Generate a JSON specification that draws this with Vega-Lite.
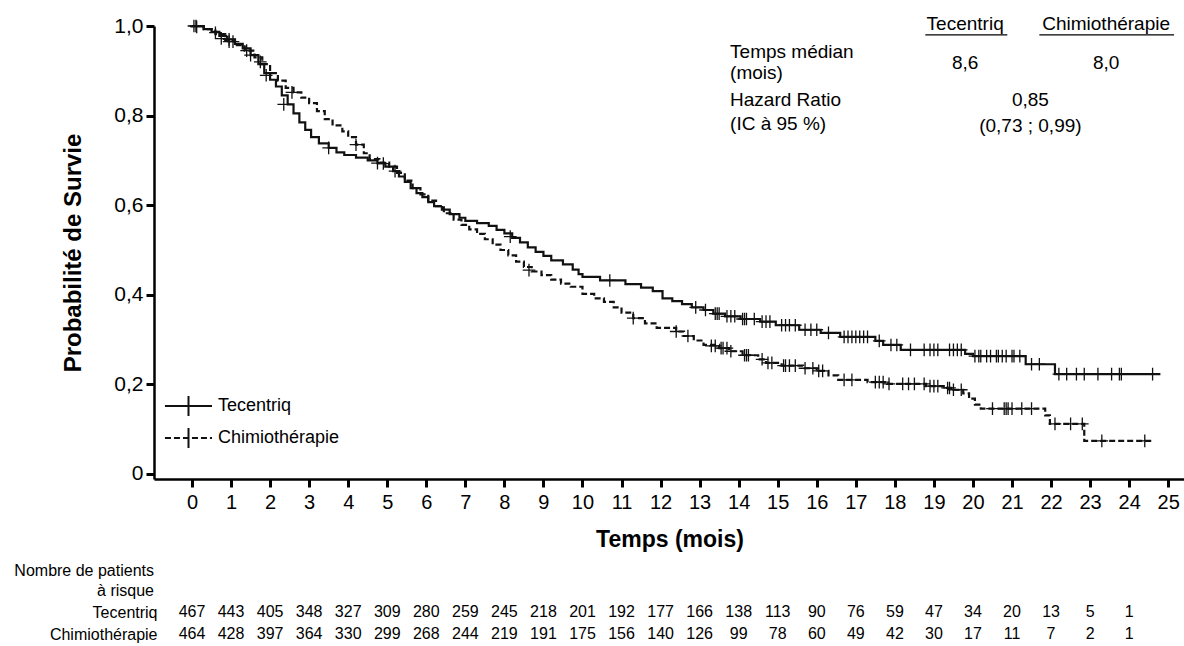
{
  "$schema": "https://vega.github.io/schema/vega-lite/v6.json",
  "background": "white",
  "padding": {"left": 14, "top": 14, "right": 0, "bottom": 0},
  "config": {
    "font": "Liberation Sans",
    "view": {"stroke": null},
    "axis": {"labelColor": "#000", "titleColor": "#000", "domainColor": "#000", "tickColor": "#000", "grid": false, "labelFont": "Liberation Sans", "titleFont": "Liberation Sans"},
    "legend": {"labelFont": "Liberation Sans"}
  },
  "spacing": 12,
  "resolve": {"scale": {"x": "independent", "y": "independent"}},
  "datasets": {
    "km": [
      {"g":"Tecentriq","t":0,"s":1.0},{"g":"Tecentriq","t":0.3,"s":0.993},{"g":"Tecentriq","t":0.5,"s":0.987},{"g":"Tecentriq","t":0.7,"s":0.978},{"g":"Tecentriq","t":0.9,"s":0.97},{"g":"Tecentriq","t":1.1,"s":0.96},{"g":"Tecentriq","t":1.3,"s":0.95},{"g":"Tecentriq","t":1.5,"s":0.935},{"g":"Tecentriq","t":1.7,"s":0.915},{"g":"Tecentriq","t":1.85,"s":0.895},{"g":"Tecentriq","t":2.0,"s":0.88},{"g":"Tecentriq","t":2.15,"s":0.865},{"g":"Tecentriq","t":2.3,"s":0.845},{"g":"Tecentriq","t":2.45,"s":0.825},{"g":"Tecentriq","t":2.6,"s":0.805},{"g":"Tecentriq","t":2.75,"s":0.785},{"g":"Tecentriq","t":2.9,"s":0.768},{"g":"Tecentriq","t":3.05,"s":0.752},{"g":"Tecentriq","t":3.25,"s":0.738},{"g":"Tecentriq","t":3.5,"s":0.728},{"g":"Tecentriq","t":3.7,"s":0.718},{"g":"Tecentriq","t":3.9,"s":0.712},{"g":"Tecentriq","t":4.2,"s":0.706},{"g":"Tecentriq","t":4.5,"s":0.7},{"g":"Tecentriq","t":4.75,"s":0.694},{"g":"Tecentriq","t":4.95,"s":0.686},{"g":"Tecentriq","t":5.15,"s":0.676},{"g":"Tecentriq","t":5.3,"s":0.664},{"g":"Tecentriq","t":5.45,"s":0.652},{"g":"Tecentriq","t":5.6,"s":0.638},{"g":"Tecentriq","t":5.75,"s":0.627},{"g":"Tecentriq","t":5.9,"s":0.618},{"g":"Tecentriq","t":6.05,"s":0.607},{"g":"Tecentriq","t":6.2,"s":0.598},{"g":"Tecentriq","t":6.4,"s":0.59},{"g":"Tecentriq","t":6.6,"s":0.58},{"g":"Tecentriq","t":6.85,"s":0.572},{"g":"Tecentriq","t":7.0,"s":0.565},{"g":"Tecentriq","t":7.3,"s":0.56},{"g":"Tecentriq","t":7.6,"s":0.554},{"g":"Tecentriq","t":7.8,"s":0.545},{"g":"Tecentriq","t":8.0,"s":0.537},{"g":"Tecentriq","t":8.2,"s":0.527},{"g":"Tecentriq","t":8.4,"s":0.517},{"g":"Tecentriq","t":8.6,"s":0.506},{"g":"Tecentriq","t":8.8,"s":0.496},{"g":"Tecentriq","t":9.0,"s":0.487},{"g":"Tecentriq","t":9.2,"s":0.477},{"g":"Tecentriq","t":9.5,"s":0.468},{"g":"Tecentriq","t":9.75,"s":0.456},{"g":"Tecentriq","t":9.9,"s":0.446},{"g":"Tecentriq","t":10.0,"s":0.44},{"g":"Tecentriq","t":10.45,"s":0.432},{"g":"Tecentriq","t":11.1,"s":0.424},{"g":"Tecentriq","t":11.5,"s":0.416},{"g":"Tecentriq","t":11.8,"s":0.408},{"g":"Tecentriq","t":12.05,"s":0.392},{"g":"Tecentriq","t":12.3,"s":0.386},{"g":"Tecentriq","t":12.55,"s":0.379},{"g":"Tecentriq","t":12.8,"s":0.372},{"g":"Tecentriq","t":13.1,"s":0.366},{"g":"Tecentriq","t":13.35,"s":0.358},{"g":"Tecentriq","t":13.65,"s":0.352},{"g":"Tecentriq","t":14.05,"s":0.346},{"g":"Tecentriq","t":14.55,"s":0.34},{"g":"Tecentriq","t":14.95,"s":0.332},{"g":"Tecentriq","t":15.55,"s":0.322},{"g":"Tecentriq","t":16.1,"s":0.315},{"g":"Tecentriq","t":16.6,"s":0.306},{"g":"Tecentriq","t":17.5,"s":0.297},{"g":"Tecentriq","t":17.7,"s":0.288},{"g":"Tecentriq","t":18.15,"s":0.277},{"g":"Tecentriq","t":19.8,"s":0.268},{"g":"Tecentriq","t":20.0,"s":0.263},{"g":"Tecentriq","t":21.35,"s":0.245},{"g":"Tecentriq","t":22.1,"s":0.223},{"g":"Tecentriq","t":24.8,"s":0.223},
      {"g":"Chimiothérapie","t":0,"s":1.0},{"g":"Chimiothérapie","t":0.3,"s":0.993},{"g":"Chimiothérapie","t":0.6,"s":0.982},{"g":"Chimiothérapie","t":0.85,"s":0.968},{"g":"Chimiothérapie","t":1.1,"s":0.957},{"g":"Chimiothérapie","t":1.35,"s":0.945},{"g":"Chimiothérapie","t":1.6,"s":0.93},{"g":"Chimiothérapie","t":1.8,"s":0.915},{"g":"Chimiothérapie","t":2.0,"s":0.895},{"g":"Chimiothérapie","t":2.2,"s":0.878},{"g":"Chimiothérapie","t":2.4,"s":0.862},{"g":"Chimiothérapie","t":2.6,"s":0.852},{"g":"Chimiothérapie","t":2.8,"s":0.84},{"g":"Chimiothérapie","t":3.0,"s":0.828},{"g":"Chimiothérapie","t":3.2,"s":0.81},{"g":"Chimiothérapie","t":3.4,"s":0.792},{"g":"Chimiothérapie","t":3.6,"s":0.778},{"g":"Chimiothérapie","t":3.85,"s":0.765},{"g":"Chimiothérapie","t":4.0,"s":0.752},{"g":"Chimiothérapie","t":4.2,"s":0.735},{"g":"Chimiothérapie","t":4.4,"s":0.716},{"g":"Chimiothérapie","t":4.55,"s":0.703},{"g":"Chimiothérapie","t":4.8,"s":0.695},{"g":"Chimiothérapie","t":5.05,"s":0.686},{"g":"Chimiothérapie","t":5.25,"s":0.672},{"g":"Chimiothérapie","t":5.45,"s":0.655},{"g":"Chimiothérapie","t":5.65,"s":0.638},{"g":"Chimiothérapie","t":5.85,"s":0.624},{"g":"Chimiothérapie","t":6.05,"s":0.61},{"g":"Chimiothérapie","t":6.25,"s":0.598},{"g":"Chimiothérapie","t":6.45,"s":0.582},{"g":"Chimiothérapie","t":6.7,"s":0.568},{"g":"Chimiothérapie","t":6.9,"s":0.556},{"g":"Chimiothérapie","t":7.1,"s":0.546},{"g":"Chimiothérapie","t":7.3,"s":0.536},{"g":"Chimiothérapie","t":7.5,"s":0.524},{"g":"Chimiothérapie","t":7.7,"s":0.512},{"g":"Chimiothérapie","t":7.9,"s":0.5},{"g":"Chimiothérapie","t":8.1,"s":0.488},{"g":"Chimiothérapie","t":8.3,"s":0.474},{"g":"Chimiothérapie","t":8.5,"s":0.462},{"g":"Chimiothérapie","t":8.7,"s":0.452},{"g":"Chimiothérapie","t":8.95,"s":0.444},{"g":"Chimiothérapie","t":9.2,"s":0.434},{"g":"Chimiothérapie","t":9.45,"s":0.425},{"g":"Chimiothérapie","t":9.7,"s":0.418},{"g":"Chimiothérapie","t":10.0,"s":0.402},{"g":"Chimiothérapie","t":10.3,"s":0.392},{"g":"Chimiothérapie","t":10.55,"s":0.384},{"g":"Chimiothérapie","t":10.8,"s":0.372},{"g":"Chimiothérapie","t":11.0,"s":0.36},{"g":"Chimiothérapie","t":11.3,"s":0.348},{"g":"Chimiothérapie","t":11.6,"s":0.336},{"g":"Chimiothérapie","t":11.9,"s":0.326},{"g":"Chimiothérapie","t":12.4,"s":0.318},{"g":"Chimiothérapie","t":12.6,"s":0.308},{"g":"Chimiothérapie","t":12.85,"s":0.298},{"g":"Chimiothérapie","t":13.1,"s":0.288},{"g":"Chimiothérapie","t":13.5,"s":0.281},{"g":"Chimiothérapie","t":13.75,"s":0.274},{"g":"Chimiothérapie","t":14.1,"s":0.265},{"g":"Chimiothérapie","t":14.5,"s":0.256},{"g":"Chimiothérapie","t":14.7,"s":0.248},{"g":"Chimiothérapie","t":15.1,"s":0.242},{"g":"Chimiothérapie","t":15.65,"s":0.236},{"g":"Chimiothérapie","t":16.0,"s":0.23},{"g":"Chimiothérapie","t":16.3,"s":0.22},{"g":"Chimiothérapie","t":16.55,"s":0.21},{"g":"Chimiothérapie","t":17.3,"s":0.205},{"g":"Chimiothérapie","t":17.8,"s":0.201},{"g":"Chimiothérapie","t":18.8,"s":0.196},{"g":"Chimiothérapie","t":19.3,"s":0.192},{"g":"Chimiothérapie","t":19.5,"s":0.188},{"g":"Chimiothérapie","t":19.75,"s":0.18},{"g":"Chimiothérapie","t":19.9,"s":0.168},{"g":"Chimiothérapie","t":20.05,"s":0.155},{"g":"Chimiothérapie","t":20.2,"s":0.146},{"g":"Chimiothérapie","t":21.85,"s":0.131},{"g":"Chimiothérapie","t":21.97,"s":0.112},{"g":"Chimiothérapie","t":22.85,"s":0.074},{"g":"Chimiothérapie","t":24.6,"s":0.074}
    ],
    "censor": [
      {"g":"Tecentriq","t":0.05,"s":1.0},{"g":"Tecentriq","t":0.12,"s":0.998},{"g":"Tecentriq","t":0.6,"s":0.985},{"g":"Tecentriq","t":0.95,"s":0.97},{"g":"Tecentriq","t":1.05,"s":0.965},{"g":"Tecentriq","t":1.4,"s":0.945},{"g":"Tecentriq","t":1.9,"s":0.89},{"g":"Tecentriq","t":2.35,"s":0.825},{"g":"Tecentriq","t":3.5,"s":0.728},{"g":"Tecentriq","t":4.75,"s":0.694},{"g":"Tecentriq","t":5.2,"s":0.676},{"g":"Tecentriq","t":8.15,"s":0.53},{"g":"Tecentriq","t":10.7,"s":0.432},{"g":"Tecentriq","t":12.9,"s":0.372},{"g":"Tecentriq","t":13.15,"s":0.366},{"g":"Tecentriq","t":13.4,"s":0.358},{"g":"Tecentriq","t":13.45,"s":0.358},{"g":"Tecentriq","t":13.5,"s":0.358},{"g":"Tecentriq","t":13.7,"s":0.352},{"g":"Tecentriq","t":13.8,"s":0.352},{"g":"Tecentriq","t":13.9,"s":0.352},{"g":"Tecentriq","t":14.1,"s":0.346},{"g":"Tecentriq","t":14.15,"s":0.346},{"g":"Tecentriq","t":14.2,"s":0.346},{"g":"Tecentriq","t":14.4,"s":0.346},{"g":"Tecentriq","t":14.6,"s":0.34},{"g":"Tecentriq","t":14.7,"s":0.34},{"g":"Tecentriq","t":14.8,"s":0.34},{"g":"Tecentriq","t":15.1,"s":0.332},{"g":"Tecentriq","t":15.2,"s":0.332},{"g":"Tecentriq","t":15.3,"s":0.332},{"g":"Tecentriq","t":15.45,"s":0.332},{"g":"Tecentriq","t":15.7,"s":0.322},{"g":"Tecentriq","t":15.85,"s":0.322},{"g":"Tecentriq","t":16.0,"s":0.322},{"g":"Tecentriq","t":16.3,"s":0.315},{"g":"Tecentriq","t":16.7,"s":0.306},{"g":"Tecentriq","t":16.8,"s":0.306},{"g":"Tecentriq","t":16.9,"s":0.306},{"g":"Tecentriq","t":17.0,"s":0.306},{"g":"Tecentriq","t":17.1,"s":0.306},{"g":"Tecentriq","t":17.2,"s":0.306},{"g":"Tecentriq","t":17.3,"s":0.306},{"g":"Tecentriq","t":17.6,"s":0.297},{"g":"Tecentriq","t":17.9,"s":0.288},{"g":"Tecentriq","t":18.05,"s":0.288},{"g":"Tecentriq","t":18.4,"s":0.277},{"g":"Tecentriq","t":18.75,"s":0.277},{"g":"Tecentriq","t":18.9,"s":0.277},{"g":"Tecentriq","t":19.0,"s":0.277},{"g":"Tecentriq","t":19.1,"s":0.277},{"g":"Tecentriq","t":19.4,"s":0.277},{"g":"Tecentriq","t":19.5,"s":0.277},{"g":"Tecentriq","t":19.6,"s":0.277},{"g":"Tecentriq","t":19.7,"s":0.277},{"g":"Tecentriq","t":20.05,"s":0.263},{"g":"Tecentriq","t":20.15,"s":0.263},{"g":"Tecentriq","t":20.2,"s":0.263},{"g":"Tecentriq","t":20.35,"s":0.263},{"g":"Tecentriq","t":20.45,"s":0.263},{"g":"Tecentriq","t":20.6,"s":0.263},{"g":"Tecentriq","t":20.65,"s":0.263},{"g":"Tecentriq","t":20.75,"s":0.263},{"g":"Tecentriq","t":20.85,"s":0.263},{"g":"Tecentriq","t":21.0,"s":0.263},{"g":"Tecentriq","t":21.05,"s":0.263},{"g":"Tecentriq","t":21.2,"s":0.263},{"g":"Tecentriq","t":21.5,"s":0.245},{"g":"Tecentriq","t":21.7,"s":0.245},{"g":"Tecentriq","t":22.2,"s":0.223},{"g":"Tecentriq","t":22.4,"s":0.223},{"g":"Tecentriq","t":22.65,"s":0.223},{"g":"Tecentriq","t":22.85,"s":0.223},{"g":"Tecentriq","t":23.2,"s":0.223},{"g":"Tecentriq","t":23.55,"s":0.223},{"g":"Tecentriq","t":23.75,"s":0.223},{"g":"Tecentriq","t":23.8,"s":0.223},{"g":"Tecentriq","t":24.6,"s":0.223},
      {"g":"Chimiothérapie","t":0.1,"s":1.0},{"g":"Chimiothérapie","t":0.75,"s":0.972},{"g":"Chimiothérapie","t":0.95,"s":0.965},{"g":"Chimiothérapie","t":1.5,"s":0.935},{"g":"Chimiothérapie","t":1.75,"s":0.92},{"g":"Chimiothérapie","t":2.56,"s":0.852},{"g":"Chimiothérapie","t":4.2,"s":0.735},{"g":"Chimiothérapie","t":4.9,"s":0.693},{"g":"Chimiothérapie","t":8.63,"s":0.455},{"g":"Chimiothérapie","t":11.3,"s":0.348},{"g":"Chimiothérapie","t":12.4,"s":0.318},{"g":"Chimiothérapie","t":12.7,"s":0.308},{"g":"Chimiothérapie","t":13.3,"s":0.286},{"g":"Chimiothérapie","t":13.4,"s":0.286},{"g":"Chimiothérapie","t":13.55,"s":0.281},{"g":"Chimiothérapie","t":13.6,"s":0.281},{"g":"Chimiothérapie","t":13.7,"s":0.281},{"g":"Chimiothérapie","t":13.8,"s":0.274},{"g":"Chimiothérapie","t":14.15,"s":0.265},{"g":"Chimiothérapie","t":14.2,"s":0.265},{"g":"Chimiothérapie","t":14.25,"s":0.265},{"g":"Chimiothérapie","t":14.6,"s":0.256},{"g":"Chimiothérapie","t":14.75,"s":0.248},{"g":"Chimiothérapie","t":14.85,"s":0.248},{"g":"Chimiothérapie","t":15.15,"s":0.242},{"g":"Chimiothérapie","t":15.2,"s":0.242},{"g":"Chimiothérapie","t":15.3,"s":0.242},{"g":"Chimiothérapie","t":15.45,"s":0.242},{"g":"Chimiothérapie","t":15.7,"s":0.236},{"g":"Chimiothérapie","t":15.9,"s":0.236},{"g":"Chimiothérapie","t":16.05,"s":0.23},{"g":"Chimiothérapie","t":16.15,"s":0.23},{"g":"Chimiothérapie","t":16.7,"s":0.21},{"g":"Chimiothérapie","t":16.9,"s":0.21},{"g":"Chimiothérapie","t":17.5,"s":0.205},{"g":"Chimiothérapie","t":17.6,"s":0.205},{"g":"Chimiothérapie","t":17.7,"s":0.205},{"g":"Chimiothérapie","t":17.85,"s":0.201},{"g":"Chimiothérapie","t":18.2,"s":0.201},{"g":"Chimiothérapie","t":18.35,"s":0.201},{"g":"Chimiothérapie","t":18.5,"s":0.201},{"g":"Chimiothérapie","t":18.75,"s":0.201},{"g":"Chimiothérapie","t":18.9,"s":0.196},{"g":"Chimiothérapie","t":19.0,"s":0.196},{"g":"Chimiothérapie","t":19.1,"s":0.196},{"g":"Chimiothérapie","t":19.35,"s":0.192},{"g":"Chimiothérapie","t":19.4,"s":0.192},{"g":"Chimiothérapie","t":19.5,"s":0.188},{"g":"Chimiothérapie","t":19.7,"s":0.188},{"g":"Chimiothérapie","t":20.5,"s":0.146},{"g":"Chimiothérapie","t":20.8,"s":0.146},{"g":"Chimiothérapie","t":20.85,"s":0.146},{"g":"Chimiothérapie","t":20.9,"s":0.146},{"g":"Chimiothérapie","t":21.0,"s":0.146},{"g":"Chimiothérapie","t":21.25,"s":0.146},{"g":"Chimiothérapie","t":21.5,"s":0.146},{"g":"Chimiothérapie","t":22.1,"s":0.112},{"g":"Chimiothérapie","t":22.5,"s":0.112},{"g":"Chimiothérapie","t":22.8,"s":0.112},{"g":"Chimiothérapie","t":23.3,"s":0.074},{"g":"Chimiothérapie","t":24.4,"s":0.074}
    ],
    "annot": [
      {"kind":"label","t":13.78,"s":0.942,"text":"Temps médian"},
      {"kind":"label","t":13.78,"s":0.895,"text":"(mois)"},
      {"kind":"label","t":13.78,"s":0.835,"text":"Hazard Ratio"},
      {"kind":"label","t":13.78,"s":0.781,"text":"(IC à 95 %)"},
      {"kind":"value","t":19.8,"s":1.0045,"text":"Tecentriq"},
      {"kind":"value","t":23.41,"s":1.0045,"text":"Chimiothérapie"},
      {"kind":"value","t":19.8,"s":0.917,"text":"8,6"},
      {"kind":"value","t":23.41,"s":0.917,"text":"8,0"},
      {"kind":"value","t":21.47,"s":0.835,"text":"0,85"},
      {"kind":"value","t":21.47,"s":0.777,"text":"(0,73 ; 0,99)"}
    ],
    "underline": [
      {"t1":18.78,"t2":20.88,"s":0.98},
      {"t1":21.7,"t2":25.15,"s":0.98}
    ],
    "risk": [
      {"g":"Tecentriq","t":0,"n":467},{"g":"Tecentriq","t":1,"n":443},{"g":"Tecentriq","t":2,"n":405},{"g":"Tecentriq","t":3,"n":348},{"g":"Tecentriq","t":4,"n":327},{"g":"Tecentriq","t":5,"n":309},{"g":"Tecentriq","t":6,"n":280},{"g":"Tecentriq","t":7,"n":259},{"g":"Tecentriq","t":8,"n":245},{"g":"Tecentriq","t":9,"n":218},{"g":"Tecentriq","t":10,"n":201},{"g":"Tecentriq","t":11,"n":192},{"g":"Tecentriq","t":12,"n":177},{"g":"Tecentriq","t":13,"n":166},{"g":"Tecentriq","t":14,"n":138},{"g":"Tecentriq","t":15,"n":113},{"g":"Tecentriq","t":16,"n":90},{"g":"Tecentriq","t":17,"n":76},{"g":"Tecentriq","t":18,"n":59},{"g":"Tecentriq","t":19,"n":47},{"g":"Tecentriq","t":20,"n":34},{"g":"Tecentriq","t":21,"n":20},{"g":"Tecentriq","t":22,"n":13},{"g":"Tecentriq","t":23,"n":5},{"g":"Tecentriq","t":24,"n":1},
      {"g":"Chimiothérapie","t":0,"n":464},{"g":"Chimiothérapie","t":1,"n":428},{"g":"Chimiothérapie","t":2,"n":397},{"g":"Chimiothérapie","t":3,"n":364},{"g":"Chimiothérapie","t":4,"n":330},{"g":"Chimiothérapie","t":5,"n":299},{"g":"Chimiothérapie","t":6,"n":268},{"g":"Chimiothérapie","t":7,"n":244},{"g":"Chimiothérapie","t":8,"n":219},{"g":"Chimiothérapie","t":9,"n":191},{"g":"Chimiothérapie","t":10,"n":175},{"g":"Chimiothérapie","t":11,"n":156},{"g":"Chimiothérapie","t":12,"n":140},{"g":"Chimiothérapie","t":13,"n":126},{"g":"Chimiothérapie","t":14,"n":99},{"g":"Chimiothérapie","t":15,"n":78},{"g":"Chimiothérapie","t":16,"n":60},{"g":"Chimiothérapie","t":17,"n":49},{"g":"Chimiothérapie","t":18,"n":42},{"g":"Chimiothérapie","t":19,"n":30},{"g":"Chimiothérapie","t":20,"n":17},{"g":"Chimiothérapie","t":21,"n":11},{"g":"Chimiothérapie","t":22,"n":7},{"g":"Chimiothérapie","t":23,"n":2},{"g":"Chimiothérapie","t":24,"n":1}
    ]
  },
  "vconcat": [
    {
      "width": 1031,
      "height": 453,
      "encoding": {
        "x": {"field": "t", "type": "quantitative", "scale": {"domain": [-0.973, 25.43], "nice": false, "zero": false},
          "axis": {"values": [0,1,2,3,4,5,6,7,8,9,10,11,12,13,14,15,16,17,18,19,20,21,22,23,24,25], "format": "d", "labelFontSize": 20, "labelPadding": 5, "tickSize": 8, "tickWidth": 3, "domainWidth": 2.5, "labelFlush": false, "labelOverlap": false, "title": "Temps (mois)", "titleFontSize": 23, "titleFontWeight": "bold", "titlePadding": 16}},
        "y": {"field": "s", "type": "quantitative", "scale": {"domain": [-0.0112, 1.0], "nice": false, "zero": false},
          "axis": {"values": [0, 0.2, 0.4, 0.6, 0.8, 1.0], "labelExpr": "datum.value == 0 ? '0' : replace(format(datum.value, '.1f'), '.', ',')", "labelFontSize": 21, "labelPadding": 3, "tickSize": 8, "tickWidth": 3, "domainWidth": 2.5, "labelFlush": false, "title": "Probabilité de Survie", "titleFontSize": 24, "titleFontWeight": "bold", "titlePadding": 28}}
      },
      "layer": [
        {
          "data": {"name": "km"},
          "mark": {"type": "line", "interpolate": "step-after", "strokeWidth": 2.2, "color": "#111"},
          "encoding": {
            "strokeDash": {"field": "g", "type": "nominal", "scale": {"domain": ["Tecentriq", "Chimiothérapie"], "range": [[1, 0], [6, 3]]},
              "legend": {"title": null, "orient": "none", "legendX": 20.5, "legendY": 366, "symbolType": "M-1.81,0L1.81,0M0,-0.77L0,-0.4M0,-0.42L0,-0.04M0,-0.06L0,0.32M0,0.3L0,0.67M0,0.62L0,0.77", "symbolSize": 676, "symbolStrokeWidth": 2, "symbolStrokeColor": "#111", "labelFontSize": 18, "labelColor": "#000", "labelOffset": 15.5, "rowPadding": 2}}
          }
        },
        {
          "data": {"name": "censor"},
          "mark": {"type": "point", "shape": "M-1,0L1,0M0,-1L0,1", "filled": false, "size": 160, "strokeWidth": 1.3, "color": "#111", "opacity": 1}
        },
        {
          "data": {"name": "annot"},
          "transform": [{"filter": "datum.kind == 'label'"}],
          "mark": {"type": "text", "align": "left", "baseline": "middle", "fontSize": 19, "color": "#000"},
          "encoding": {"text": {"field": "text"}}
        },
        {
          "data": {"name": "annot"},
          "transform": [{"filter": "datum.kind == 'value'"}],
          "mark": {"type": "text", "align": "center", "baseline": "middle", "fontSize": 19, "color": "#000"},
          "encoding": {"text": {"field": "text"}}
        },
        {
          "data": {"name": "underline"},
          "mark": {"type": "rule", "strokeWidth": 1.3, "color": "#000"},
          "encoding": {
            "x": {"field": "t1", "type": "quantitative"},
            "x2": {"field": "t2"},
            "y": {"field": "s", "type": "quantitative"}
          }
        }
      ]
    },
    {
      "width": 1031,
      "height": 44,
      "data": {"name": "risk"},
      "title": {"text": ["Nombre de patients", "à risque"], "anchor": "start", "align": "right", "frame": "group", "fontSize": 16, "fontWeight": "normal", "lineHeight": 20, "offset": 2, "color": "#000"},
      "mark": {"type": "text", "fontSize": 16, "baseline": "middle", "color": "#000"},
      "encoding": {
        "x": {"field": "t", "type": "quantitative", "scale": {"domain": [-0.973, 25.43], "nice": false, "zero": false}, "axis": null},
        "y": {"field": "g", "type": "nominal", "sort": ["Tecentriq", "Chimiothérapie"], "axis": {"title": null, "domain": false, "ticks": false, "labelFontSize": 16, "labelPadding": -3, "labelColor": "#000"}},
        "text": {"field": "n", "type": "quantitative"}
      }
    }
  ]
}
